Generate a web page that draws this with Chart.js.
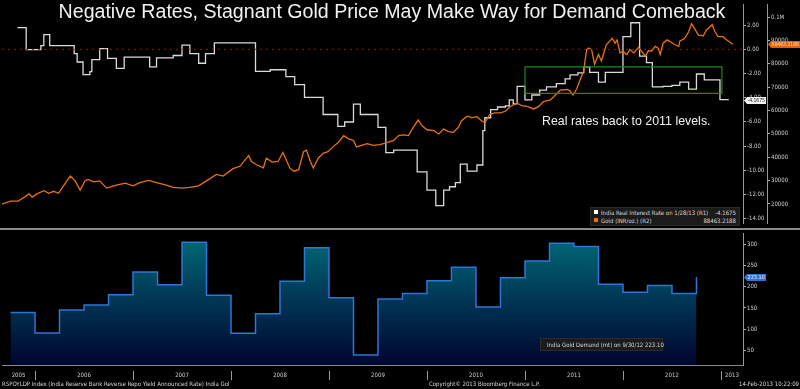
<!DOCTYPE html>
<html>
<head>
<meta charset="utf-8">
<title>Negative Rates, Stagnant Gold Price</title>
<script src="https://cdn.jsdelivr.net/npm/chart.js@4.4.1/dist/chart.umd.min.js"></script>
<style>
  body { margin: 0; background: #000; }
  #wrap { position: relative; width: 800px; height: 389px; overflow: hidden; background: #000;
          font-family: "Liberation Sans", Arial, sans-serif; color: #ddd; }
  canvas { position: absolute; left: 0; }
  #topChart { top: 0; }
  #botChart { top: 229px; }
  .sep { position: absolute; left: 0; top: 228px; width: 800px; height: 2px; background: #8a8a8a; }
  #title { position: absolute; left: 0; top: 0; width: 784px; text-align: center; font-size: 19.6px;
           line-height: 22px; color: #f2f2f2; white-space: nowrap; }
  #note { position: absolute; left: 542px; top: 114px; font-size: 12.4px; color: #f2f2f2; white-space: nowrap; }
  .small { font-family: "Liberation Sans Narrow", "DejaVu Sans Condensed", "Liberation Sans", sans-serif;
           font-size: 6px; color: #d8d8d8; white-space: nowrap; }
  .legend { position: absolute; background: #1b1b1b; border: 1px solid #2c2c2c; }
  .legend .row { display: flex; align-items: center; height: 8px; padding: 0 3px; }
  .legend .sq { width: 4px; height: 4px; margin-right: 3px; }
  .legend .val { margin-left: auto; }
  .foot { position: absolute; top: 380px; line-height: 8px; }
</style>
</head>
<body>
<div id="wrap">
  <canvas id="topChart" width="800" height="228"></canvas>
  <canvas id="botChart" width="800" height="160"></canvas>
  <div class="sep"></div>
  <div id="title">Negative Rates, Stagnant Gold Price May Make Way for Demand Comeback</div>
  <div id="note">Real rates back to 2011 levels.</div>

  <div class="legend small" style="left:590px;top:207px;width:148px;height:17px;">
    <div class="row"><span class="sq" style="background:#fff"></span><span>India Real Interest Rate on 1/28/13 (R1)</span><span class="val">-4.1675</span></div>
    <div class="row"><span class="sq" style="background:#e8720e"></span><span>Gold (INR/oz.) (R2)</span><span class="val">88463.2188</span></div>
  </div>
  <div class="legend small" style="left:540px;top:338px;width:121px;height:11px;">
    <div class="row" style="height:11px"><span class="sq" style="background:#3a86ee"></span><span>India Gold Demand (mt) on 9/30/12 223.10</span></div>
  </div>

  <div class="foot small" style="left:2px;">RSPOYLDP Index (India Reserve Bank Reverse Repo Yield Announced Rate) India Gol</div>
  <div class="foot small" style="left:429px;">Copyright© 2013 Bloomberg Finance L.P.</div>
  <div class="foot small" style="right:1px;">14-Feb-2013 10:22:09</div>
</div>

<script>
// ===========================
// DATA
// ===========================
const xMin = 2005.663;
const xMax = 2013.225;
const yearLabels = ['2005', '2006', '2007', '2008', '2009', '2010', '2011', '2012', '2013'];

// India real interest rate (R1), step series: date (decimal year), rate %
const rateX = [2005.82, 2005.91, 2006.06, 2006.09, 2006.15, 2006.40, 2006.43, 2006.49, 2006.56, 2006.58,
  2006.66, 2006.74, 2006.83, 2006.91, 2007.17, 2007.24, 2007.41, 2007.50, 2007.58, 2007.67,
  2007.74, 2007.83, 2008.25, 2008.40, 2008.56, 2008.65, 2008.75, 2008.94, 2009.09, 2009.16,
  2009.25, 2009.32, 2009.50, 2009.58, 2009.66, 2009.90, 2010.00, 2010.09, 2010.17, 2010.23,
  2010.29, 2010.34, 2010.41, 2010.51, 2010.57, 2010.59, 2010.65, 2010.72, 2010.80, 2010.84,
  2010.88, 2010.92, 2011.00, 2011.07, 2011.15, 2011.22, 2011.32, 2011.41, 2011.46, 2011.54,
  2011.60, 2011.66, 2011.75, 2011.82, 2012.00, 2012.08, 2012.17, 2012.24, 2012.30, 2012.41,
  2012.50, 2012.58, 2012.67, 2012.75, 2012.83, 2012.99, 2013.08];
const rateY = [1.79, -0.02, 0.30, 1.21, 0.30, -0.35, -1.05, -2.09, -1.85, -0.86,
  0.06, -0.75, -1.58, -0.64, -1.45, -0.70, -0.51, 0.35, -0.35, -1.15,
  -0.35, 0.54, -1.83, -1.69, -2.25, -2.92, -3.97, -5.39, -6.38, -6.01,
  -4.53, -5.39, -6.46, -8.55, -8.34, -10.14, -11.64, -12.93, -11.64, -11.37,
  -11.02, -9.49, -10.08, -9.57, -6.73, -5.66, -4.99, -4.77, -4.67, -4.18,
  -4.51, -3.06, -4.18, -3.78, -3.38, -3.11, -2.84, -2.44, -2.12, -1.95,
  -1.45, -1.91, -2.71, -1.91, 1.05, 2.20, -0.56, -1.10, -3.11, -3.06,
  -2.98, -2.71, -3.30, -2.04, -2.52, -4.1675, -4.1675];

// Gold price in INR per ounce (R2)
const goldX = [2005.66, 2005.75, 2005.83, 2005.88, 2005.94, 2005.97, 2006.02, 2006.09, 2006.14, 2006.19,
  2006.24, 2006.29, 2006.36, 2006.41, 2006.46, 2006.51, 2006.54, 2006.60, 2006.66, 2006.73,
  2006.78, 2006.83, 2006.92, 2007.00, 2007.07, 2007.16, 2007.24, 2007.33, 2007.41, 2007.50,
  2007.58, 2007.67, 2007.75, 2007.85, 2007.92, 2008.02, 2008.09, 2008.18, 2008.21, 2008.26,
  2008.33, 2008.36, 2008.42, 2008.48, 2008.53, 2008.60, 2008.64, 2008.69, 2008.74, 2008.77,
  2008.81, 2008.84, 2008.89, 2008.94, 2008.99, 2009.04, 2009.10, 2009.15, 2009.20, 2009.25,
  2009.28, 2009.33, 2009.39, 2009.45, 2009.52, 2009.59, 2009.66, 2009.71, 2009.76, 2009.81,
  2009.86, 2009.91, 2009.95, 2010.00, 2010.07, 2010.12, 2010.17, 2010.22, 2010.27, 2010.32,
  2010.35, 2010.41, 2010.46, 2010.51, 2010.56, 2010.59, 2010.64, 2010.69, 2010.75, 2010.80,
  2010.85, 2010.92, 2010.97, 2011.02, 2011.09, 2011.14, 2011.19, 2011.26, 2011.31, 2011.36,
  2011.43, 2011.46, 2011.49, 2011.53, 2011.56, 2011.60, 2011.61, 2011.63, 2011.65, 2011.68,
  2011.71, 2011.75, 2011.78, 2011.83, 2011.89, 2011.92, 2011.94, 2011.97, 2012.00, 2012.04,
  2012.07, 2012.11, 2012.16, 2012.19, 2012.23, 2012.26, 2012.29, 2012.33, 2012.36, 2012.38,
  2012.41, 2012.45, 2012.48, 2012.53, 2012.57, 2012.58, 2012.63, 2012.67, 2012.70, 2012.74,
  2012.77, 2012.82, 2012.85, 2012.91, 2012.94, 2012.97, 2013.02, 2013.06, 2013.12];
const goldY = [19880, 21250, 21250, 22630, 24290, 22920, 24290, 25710, 24580, 25420,
  24580, 27790, 31960, 29880, 25960, 29880, 30540, 29460, 29880, 26790,
  27380, 28040, 28880, 27790, 29170, 30130, 29170, 28210, 27080, 26790,
  27080, 27790, 29880, 32630, 31960, 35130, 36130, 40710, 38210, 36790,
  35420, 39580, 37920, 38210, 42080, 35420, 34040, 34710, 42380, 43040,
  38210, 35420, 39580, 41670, 42380, 44460, 46540, 49290, 47920, 47210,
  44460, 45130, 45830, 45130, 45420, 46250, 47210, 49290, 49580, 49290,
  52790, 55960, 53460, 51790, 51380, 50000, 52080, 50960, 50710, 52790,
  55540, 57630, 56960, 57380, 55540, 54880, 58330, 59040, 59040, 59710,
  61790, 63210, 62080, 61790, 60710, 61790, 63880, 64580, 66670, 68750,
  69040, 68460, 66670, 69460, 72920, 77080, 80540, 86130, 86790, 86130,
  79880, 84040, 81250, 88210, 90960, 88880, 90290, 84710, 85420, 84040,
  86130, 84710, 87080, 85420, 83330, 85710, 85420, 87500, 86790, 84040,
  88880, 90290, 89580, 88210, 87500, 89750, 90960, 93750, 97210, 94460,
  92380, 92080, 94460, 96790, 93750, 91670, 91670, 90290, 88463.2188];

// India gold demand (metric tonnes), quarterly
const demandX = [2005.75, 2006.00, 2006.25, 2006.50, 2006.75, 2007.00, 2007.25, 2007.50, 2007.75, 2008.00,
  2008.25, 2008.50, 2008.75, 2009.00, 2009.25, 2009.50, 2009.75, 2010.00, 2010.25, 2010.50,
  2010.75, 2011.00, 2011.25, 2011.50, 2011.75, 2012.00, 2012.25, 2012.50, 2012.75];
const demandY = [139, 91, 145, 157, 181, 235, 205, 305, 180, 90,
  136, 213, 292, 174, 39, 171, 184, 214, 246, 152,
  221, 261, 303, 295, 206, 187, 203, 184, 223.10];

// highlighted range (green box) and tick labels
const boxX = [2011.0, 2013.01];
const boxY = [-1.45, -3.65];
const rateTicks = [2, 0, -2, -4, -6, -8, -10, -12, -14];
const goldTicks = [20000, 30000, 40000, 50000, 60000, 70000, 80000, 90000, 100000];
const demandTicks = [50, 100, 150, 200, 250, 300];

// ===========================
// HELPERS
// ===========================
const toPts = (xs, ys) => xs.map((x, i) => ({ x: x, y: ys[i] }));
const smallFont = { family: '"Liberation Sans Narrow", "DejaVu Sans Condensed", "Liberation Sans", sans-serif', size: 6 };

// year label sits in the middle of the visible part of each year
const yearTicks = yearLabels.map(l => {
  const y = Number(l);
  return (Math.max(y, xMin) + Math.min(y + 1, xMax)) / 2;
});

// value tags on the right axes
const tagPlugin = {
  id: 'tags',
  afterDraw(chart, args, opts) {
    const c = chart.ctx;
    (opts.items || []).forEach(t => {
      const sc = chart.scales[t.axis];
      const y = Math.round(sc.getPixelForValue(t.value)) + 0.5;
      const x = sc.left + 1;
      c.save();
      c.fillStyle = t.bg;
      c.beginPath();
      c.moveTo(x, y);
      c.lineTo(x + 3, y - 3.5);
      c.lineTo(x + t.w, y - 3.5);
      c.lineTo(x + t.w, y + 3.5);
      c.lineTo(x + 3, y + 3.5);
      c.closePath();
      c.fill();
      c.fillStyle = t.fg;
      c.font = '5.5px ' + smallFont.family;
      c.textBaseline = 'middle';
      c.fillText(t.text, x + 3.5, y + 0.5, t.w - 4.5);
      c.restore();
    });
  }
};

// short separators between years under the lower panel
const yearSepPlugin = {
  id: 'yearSep',
  afterDraw(chart) {
    const c = chart.ctx;
    const xs = chart.scales.x;
    const bottom = chart.chartArea.bottom;
    c.save();
    c.strokeStyle = '#9a9a9a';
    c.lineWidth = 1;
    for (let y = Math.ceil(xMin); y <= Math.floor(xMax); y++) {
      const px = Math.round(xs.getPixelForValue(y)) + 0.5;
      c.beginPath();
      c.moveTo(px, bottom + 6);
      c.lineTo(px, bottom + 15);
      c.stroke();
    }
    c.restore();
  }
};

function rightAxis(min, max, ticks, width, weight, fmt) {
  return {
    position: 'right', weight: weight, min: min, max: max,
    afterBuildTicks: s => { s.ticks = ticks.map(v => ({ value: v })); },
    afterFit: s => { s.width = width; },
    grid: { drawOnChartArea: false, tickLength: 3, color: '#b0b0b0' },
    border: { color: '#9a9a9a', width: 1 },
    ticks: { color: '#d0d0d0', font: smallFont, padding: 1, callback: fmt }
  };
}

// ===========================
// TOP PANEL: REAL RATE + GOLD
// ===========================
new Chart(document.getElementById('topChart'), {
  type: 'line',
  data: {
    datasets: [
      { data: [{ x: xMin, y: 0 }, { x: xMax, y: 0 }], yAxisID: 'y1',
        borderColor: '#9a1010', borderWidth: 1, borderDash: [2, 4], pointRadius: 0 },
      { data: toPts([boxX[0], boxX[1], boxX[1], boxX[0], boxX[0]], [boxY[0], boxY[0], boxY[1], boxY[1], boxY[0]]),
        yAxisID: 'y1', borderColor: '#1c8a1c', borderWidth: 1.2, pointRadius: 0 },
      { data: toPts(goldX, goldY), yAxisID: 'y2',
        borderColor: '#e8720e', borderWidth: 1.3, pointRadius: 0 },
      { data: toPts(rateX, rateY), yAxisID: 'y1', stepped: true,
        borderColor: '#dadada', borderWidth: 1.3, pointRadius: 0 }
    ]
  },
  options: {
    responsive: false, animation: false, events: [],
    layout: { padding: { left: 2, top: 2, bottom: 1, right: 0 } },
    plugins: {
      legend: { display: false }, tooltip: { enabled: false },
      tags: { items: [
        { axis: 'y1', value: -4.1675, text: '-4.1675', bg: '#f4f4f4', fg: '#111', w: 22 },
        { axis: 'y2', value: 88463.2188, text: '88463.2188', bg: '#e2620c', fg: '#f6e0c8', w: 32 }
      ] }
    },
    scales: {
      x: { type: 'linear', min: xMin, max: xMax, display: false },
      y1: rightAxis(-14.4, 3.7, rateTicks, 24, 0, v => v.toFixed(2)),
      y2: rightAxis(11667, 105417, goldTicks, 33, 1, v => v >= 100000 ? '0.1M' : String(v))
    }
  },
  plugins: [tagPlugin]
});

// ===========================
// BOTTOM PANEL: GOLD DEMAND
// ===========================
new Chart(document.getElementById('botChart'), {
  type: 'line',
  data: {
    datasets: [{
      data: toPts(demandX, demandY), stepped: true, fill: 'start',
      borderColor: '#2f74d8', borderWidth: 1.5, pointRadius: 0,
      backgroundColor: ctx => {
        const area = ctx.chart.chartArea;
        if (!area) return 'rgba(0,60,90,1)';
        const g = ctx.chart.ctx.createLinearGradient(0, area.top, 0, area.bottom);
        g.addColorStop(0, '#006d76');
        g.addColorStop(0.5, '#003655');
        g.addColorStop(1, '#00052e');
        return g;
      }
    }]
  },
  options: {
    responsive: false, animation: false, events: [],
    layout: { padding: { left: 2, top: 2, bottom: 0, right: 0 } },
    plugins: {
      legend: { display: false }, tooltip: { enabled: false },
      tags: { items: [
        { axis: 'y', value: 223.10, text: '223.10', bg: '#2f74d8', fg: '#e8f0ff', w: 22 }
      ] }
    },
    scales: {
      x: {
        type: 'linear', min: xMin, max: xMax,
        afterBuildTicks: s => { s.ticks = yearTicks.map(v => ({ value: v })); },
        afterFit: s => { s.height = 24; },
        grid: { display: false, drawTicks: false },
        border: { display: true, color: '#8a8a8a', dash: [3, 4] },
        ticks: { color: '#d0d0d0', font: smallFont, padding: 7, maxRotation: 0, autoSkip: false,
                 callback: (v, i) => yearLabels[i] }
      },
      y: rightAxis(15.3, 325.5, demandTicks, 57, 0, v => String(v))
    }
  },
  plugins: [tagPlugin, yearSepPlugin]
});
</script>
</body>
</html>
